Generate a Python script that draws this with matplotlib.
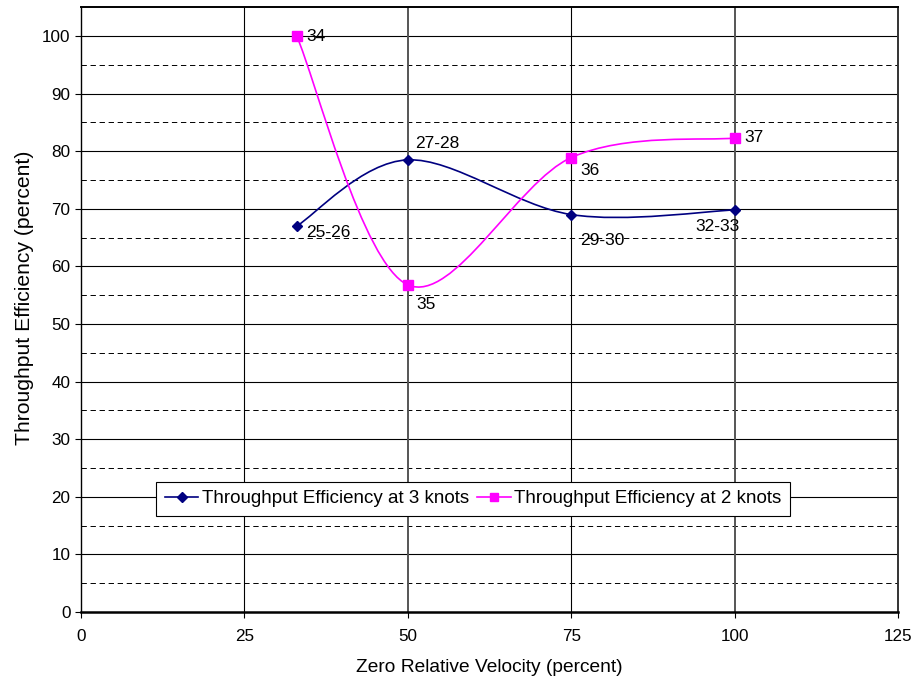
import matplotlib
matplotlib.use('Agg')
import matplotlib.pyplot as plt
from matplotlib.path import Path
from matplotlib.patches import PathPatch
from matplotlib.lines import Line2D

plt.rcParams['font.family'] = ['Liberation Sans', 'DejaVu Sans']
plt.rcParams['font.size'] = 12

# data
velocity = [33, 50, 75, 100]
eff_3kn = [67, 78.5, 69, 69.8]
eff_2kn = [100, 56.8, 78.9, 82.3]
labels_3kn = ['25-26', '27-28', '29-30', '32-33']
labels_2kn = ['34', '35', '36', '37']

NAVY = '#000080'
PINK = '#FF00FF'


def smooth_path(xs, ys):
    # Excel-style smoothed line: Catmull-Rom tangents as cubic Bezier segments
    pts = list(zip(xs, ys))
    verts = [pts[0]]
    codes = [Path.MOVETO]
    n = len(pts)
    for i in range(n - 1):
        p0 = pts[max(i - 1, 0)]
        p1 = pts[i]
        p2 = pts[i + 1]
        p3 = pts[min(i + 2, n - 1)]
        c1 = (p1[0] + (p2[0] - p0[0]) / 6, p1[1] + (p2[1] - p0[1]) / 6)
        c2 = (p2[0] - (p3[0] - p1[0]) / 6, p2[1] - (p3[1] - p1[1]) / 6)
        verts += [c1, c2, p2]
        codes += [Path.CURVE4] * 3
    return Path(verts, codes)


fig = plt.figure(figsize=(9.17, 6.88), dpi=100)
ax = fig.add_axes([0.0883, 0.1105, 0.891, 0.879])

ax.set_xlim(0, 125)
ax.set_ylim(0, 105)
ax.set_xticks([0, 25, 50, 75, 100, 125])
ax.set_yticks(range(0, 101, 10))

# grid
for y in range(10, 101, 10):
    ax.axhline(y, color='black', lw=0.8, zorder=1)
for y in range(5, 100, 10):
    ax.axhline(y, color='black', lw=0.7, ls=(0, (5.5, 3.8)), zorder=1)
for x in [25, 75]:
    ax.axvline(x, color='black', lw=0.8, zorder=1)
for x in [50, 100]:
    ax.axvline(x, color='#555555', lw=1.4, zorder=1)

ax.add_patch(PathPatch(smooth_path(velocity, eff_3kn), fill=False,
                       edgecolor=NAVY, lw=1.2, zorder=3))
ax.add_patch(PathPatch(smooth_path(velocity, eff_2kn), fill=False,
                       edgecolor=PINK, lw=1.2, zorder=3))
ax.plot(velocity, eff_3kn, ls='none', marker='D', ms=5.5, color=NAVY, zorder=4)
ax.plot(velocity, eff_2kn, ls='none', marker='s', ms=6.5, color=PINK, zorder=4)

# point labels
off_3kn = [(7, -4.5), (5, 11.5), (6.5, -19), (-28, -12)]
off_2kn = [(7, 0), (6, -14), (6.5, -9), (7, 0.5)]
for x, y, t, o in zip(velocity, eff_3kn, labels_3kn, off_3kn):
    ax.annotate(t, (x, y), xytext=o, textcoords='offset points',
                ha='left', va='center', fontsize=12.5, zorder=5)
for x, y, t, o in zip(velocity, eff_2kn, labels_2kn, off_2kn):
    ax.annotate(t, (x, y), xytext=o, textcoords='offset points',
                ha='left', va='center', fontsize=12.5, zorder=5)

for s in ax.spines.values():
    s.set_color('black')
    s.set_linewidth(1.0)
ax.spines['bottom'].set_linewidth(1.8)
ax.spines['top'].set_linewidth(1.4)
ax.spines['right'].set_color('#333333')
ax.spines['right'].set_linewidth(1.4)
ax.tick_params(direction='out', length=4, width=0.8, colors='black',
               labelsize=12.3)
ax.tick_params(axis='x', pad=8)

ax.set_xlabel('Zero Relative Velocity (percent)', fontsize=13.8, labelpad=11)
ax.set_ylabel('Throughput Efficiency (percent)', fontsize=15.2)
ax.yaxis.set_label_coords(-0.057, 0.52)

handles = [
    Line2D([], [], color=NAVY, lw=1.2, marker='D', ms=5),
    Line2D([], [], color=PINK, lw=1.2, marker='s', ms=6),
]
leg = ax.legend(handles, ['Throughput Efficiency at 3 knots',
                          'Throughput Efficiency at 2 knots'],
                ncol=2, loc='center', bbox_to_anchor=(0.48, 0.187),
                fontsize=13.5, frameon=True, fancybox=False, framealpha=1,
                edgecolor='black', handlelength=1.8, handletextpad=0.2,
                columnspacing=0.4, borderpad=0.45, borderaxespad=0)
leg.get_frame().set_linewidth(0.8)
leg.set_zorder(6)

fig.savefig('out.png', dpi=100)
